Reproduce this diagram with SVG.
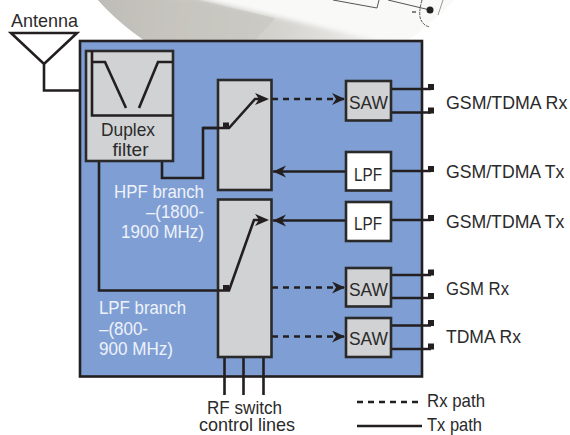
<svg xmlns="http://www.w3.org/2000/svg" width="570" height="435" viewBox="0 0 570 435">
<style>
text{font-family:"Liberation Sans Narrow","Liberation Sans",Arial,sans-serif;font-size:19px;fill:#2b2a2b}
.w{fill:#eef2fa}
.box{fill:#d0d2d3;stroke:#2b2a2b;stroke-width:2.6}
.wb{fill:#fff;stroke:#2b2a2b;stroke-width:2.6}
.l{fill:none;stroke:#231f20;stroke-width:2.6}
.d{fill:none;stroke:#231f20;stroke-width:2.4;stroke-dasharray:6 5}
.s{fill:#231f20}
</style>
<defs>
<linearGradient id="g1" gradientUnits="userSpaceOnUse" x1="100" y1="0" x2="400" y2="40">
<stop offset="0" stop-color="#b3b1ac"/><stop offset="0.25" stop-color="#c6c4be"/><stop offset="0.6" stop-color="#d4d3ce"/><stop offset="1" stop-color="#f4f4f2"/>
</linearGradient>
<filter id="b1" x="-10%" y="-30%" width="120%" height="160%"><feGaussianBlur stdDeviation="2.5"/></filter>
<clipPath id="c1"><circle cx="276" cy="-158" r="238"/></clipPath>
<marker id="a" markerUnits="userSpaceOnUse" markerWidth="16" markerHeight="14" refX="13" refY="6" orient="auto"><path d="M0 0L13 6L0 12L4 6Z" fill="#231f20"/></marker>
</defs>
<rect width="570" height="435" fill="#fff"/>
<g id="sphere">
<circle cx="276" cy="-158" r="238" fill="#f9f9f8"/>
<g clip-path="url(#c1)"><path d="M90 -8L195 -2Q290 20 345 33L400 46L90 46Z" fill="url(#g1)" filter="url(#b1)"/><path d="M90 -8L190 -2Q240 10 275 18L250 46L90 46Z" fill="#c6c4be" opacity=".6"/></g>
<path d="M333 0L377 8L379 0M388 0L430 10" fill="none" stroke="#555" stroke-width="1"/>
<circle cx="430" cy="10" r="3.5" fill="#222"/>
<path d="M412 12h4" stroke="#333" stroke-width="1.2"/>
<path d="M422 0Q418 14 421 20Q424 26 430 27" fill="none" stroke="#555" stroke-width="1" stroke-dasharray="3 1"/>
<path d="M443 0L438 15" fill="none" stroke="#999" stroke-width="1"/>
</g>
<rect id="board" x="80" y="41" width="342" height="335.500" fill="#7f9fd4" stroke="#231f20" stroke-width="2.600"/>
<g id="connectors">
<path class="l" d="M11 33H77L44 64ZM44 64V90.500H80"/>
<path class="l" d="M162 161V178H203V128H229L255 99H262"/>
<path class="l" d="M99 161V290.500H229L254 220H262"/>
<path class="d" d="M272 99H345" marker-end="url(#a)"/>
<path class="d" d="M272 287.500H345" marker-end="url(#a)"/>
<path class="d" d="M272 336.500H345" marker-end="url(#a)"/>
<path class="l" d="M346 171.500H273" marker-end="url(#a)"/>
<path class="l" d="M346 220.500H273" marker-end="url(#a)"/>
<path class="l" d="M391 89H431M391 112.500H431M391 171H431M391 220H431M391 275H431M391 298H431M391 325.500H431M391 349H431"/>
<path class="l" d="M224.500 357V395M243.500 357V395M263.500 357V395"/>
<path class="d" d="M357 402H422"/>
<path class="l" d="M357 426H422"/>
</g>
<g id="duplex">
<rect class="box" x="86" y="51" width="87" height="110"/>
<path class="l" d="M92 51V115.500H173M92 62H105L126 108M139 108L158 62H173"/>
<text x="128" y="136" text-anchor="middle" textLength="54" lengthAdjust="spacingAndGlyphs">Duplex</text>
<text x="130.500" y="156" text-anchor="middle" textLength="36" lengthAdjust="spacingAndGlyphs">filter</text>
</g>
<g id="switch-hpf">
<rect class="box" x="218" y="80" width="53.500" height="110"/>
<path class="l" d="M203 128H229L255 99H262"/>
<rect class="s" x="223" y="122.500" width="6" height="6"/>
</g>
<g id="switch-lpf">
<rect class="box" x="218" y="199.500" width="53.500" height="157.500"/>
<path class="l" d="M218 290.500H229L254 220H262"/>
<rect class="s" x="223" y="285" width="6" height="6"/>
</g>
<g id="arrows-top">
<path class="s" d="M255 93L269 99L255 105L259 99Z"/>
<path class="s" d="M255 214L269 220L255 226L259 220Z"/>
</g>
<g id="saw1"><rect class="box" x="346" y="81" width="45" height="39.500"/><text x="368.500" y="109" text-anchor="middle" textLength="39" lengthAdjust="spacingAndGlyphs">SAW</text></g>
<g id="lpf1"><rect class="wb" x="346" y="152" width="45" height="38.500"/><text x="368" y="181" text-anchor="middle" textLength="28" lengthAdjust="spacingAndGlyphs">LPF</text></g>
<g id="lpf2"><rect class="wb" x="346" y="202" width="45" height="39"/><text x="368" y="230" text-anchor="middle" textLength="28" lengthAdjust="spacingAndGlyphs">LPF</text></g>
<g id="saw2"><rect class="box" x="346" y="268" width="45" height="38.500"/><text x="368.500" y="296" text-anchor="middle" textLength="39" lengthAdjust="spacingAndGlyphs">SAW</text></g>
<g id="saw3"><rect class="box" x="346" y="318" width="45" height="39"/><text x="368.500" y="345" text-anchor="middle" textLength="39" lengthAdjust="spacingAndGlyphs">SAW</text></g>
<g id="ports">
<rect class="s" x="428" y="84" width="6" height="6"/>
<rect class="s" x="428" y="107.500" width="6" height="6"/>
<rect class="s" x="428" y="166" width="6" height="6"/>
<rect class="s" x="428" y="215" width="6" height="6"/>
<rect class="s" x="428" y="269.500" width="6" height="6"/>
<rect class="s" x="428" y="293" width="6" height="6"/>
<rect class="s" x="428" y="320" width="6" height="6"/>
<rect class="s" x="428" y="343.500" width="6" height="6"/>
</g>
<g id="labels">
<text x="11" y="27" textLength="67" lengthAdjust="spacingAndGlyphs">Antenna</text>
<text class="w" x="114" y="198" textLength="90" lengthAdjust="spacingAndGlyphs">HPF branch</text>
<text class="w" x="146" y="218" textLength="58" lengthAdjust="spacingAndGlyphs">–(1800-</text>
<text class="w" x="121" y="238" textLength="83" lengthAdjust="spacingAndGlyphs">1900 MHz)</text>
<text class="w" x="99" y="314" textLength="87" lengthAdjust="spacingAndGlyphs">LPF branch</text>
<text class="w" x="99" y="335" textLength="49" lengthAdjust="spacingAndGlyphs">–(800-</text>
<text class="w" x="99" y="355" textLength="74" lengthAdjust="spacingAndGlyphs">900 MHz)</text>
<text x="207" y="414" textLength="75" lengthAdjust="spacingAndGlyphs">RF switch</text>
<text x="199" y="431" textLength="96" lengthAdjust="spacingAndGlyphs">control lines</text>
<text x="427" y="407" textLength="58" lengthAdjust="spacingAndGlyphs">Rx path</text>
<text x="427" y="431" textLength="55" lengthAdjust="spacingAndGlyphs">Tx path</text>
<text transform="translate(446 109) scale(.935 1)">GSM/TDMA Rx</text>
<text transform="translate(446 178) scale(.93 1)">GSM/TDMA Tx</text>
<text transform="translate(446 228) scale(.93 1)">GSM/TDMA Tx</text>
<text x="446" y="295" textLength="63" lengthAdjust="spacingAndGlyphs">GSM Rx</text>
<text x="446" y="343" textLength="75" lengthAdjust="spacingAndGlyphs">TDMA Rx</text>
</g>
</svg>
